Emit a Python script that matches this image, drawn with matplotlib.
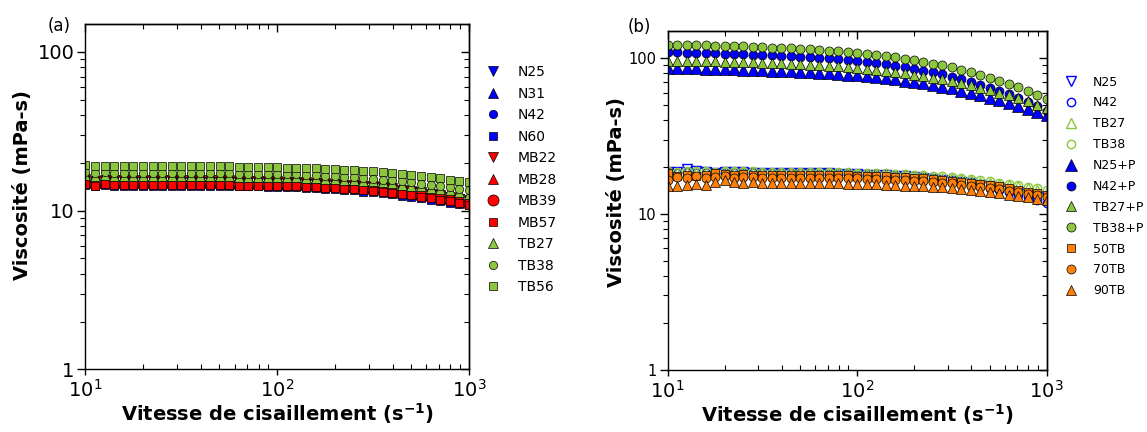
import matplotlib
matplotlib.use('Agg')
import matplotlib.pyplot as plt
from matplotlib.ticker import FixedLocator, FixedFormatter, NullFormatter, LogLocator

plt.rcParams['font.family'] = ['DejaVu Sans']
plt.rcParams['mathtext.fontset'] = 'dejavusans'

# ---------------- data ----------------
shear_rate = [10.0, 11.22, 12.59, 14.13, 15.85, 17.78, 19.95, 22.39, 25.12, 28.18,
              31.62, 35.48, 39.81, 44.67, 50.12, 56.23, 63.10, 70.79, 79.43, 89.13,
              100.0, 112.2, 125.9, 141.3, 158.5, 177.8, 199.5, 223.9, 251.2, 281.8,
              316.2, 354.8, 398.1, 446.7, 501.2, 562.3, 631.0, 707.9, 794.3, 891.3,
              1000.0]

# panel (a)
a_N25 = [15.5,15.2,15.4,15.3,15.3,15.2,15.3,15.3,15.3,15.3, 15.2,15.2,15.2,15.2,15.2,15.2,15.1,15.1,15.1,15.0,
         15.0,14.9,14.9,14.8,14.7,14.6,14.5,14.4,14.3,14.1, 14.0,13.8,13.6,13.3,13.1,12.9,12.6,12.4,12.1,11.8, 11.5]
a_N31 = [15.2,14.9,15.1,15.0,15.0,14.9,15.0,15.0,15.0,15.0, 14.9,14.9,14.9,14.9,14.9,14.9,14.8,14.8,14.8,14.7,
         14.7,14.6,14.6,14.5,14.4,14.3,14.2,14.1,14.0,13.8, 13.7,13.5,13.3,13.0,12.8,12.6,12.3,12.1,11.8,11.5, 11.2]
a_N42 = [15.0,14.7,14.9,14.8,14.8,14.7,14.8,14.8,14.8,14.8, 14.7,14.7,14.7,14.7,14.7,14.7,14.6,14.6,14.6,14.5,
         14.5,14.4,14.4,14.3,14.2,14.1,14.0,13.9,13.8,13.6, 13.5,13.3,13.1,12.8,12.6,12.4,12.1,11.9,11.6,11.3, 11.0]
a_N60 = [14.6,14.3,14.5,14.4,14.4,14.3,14.4,14.4,14.4,14.4, 14.3,14.3,14.3,14.3,14.3,14.3,14.2,14.2,14.2,14.1,
         14.1,14.0,14.0,13.9,13.8,13.7,13.6,13.5,13.4,13.2, 13.1,12.9,12.7,12.4,12.2,12.0,11.7,11.5,11.2,11.0, 10.8]
a_MB22 = [15.8,15.4,15.6,15.5,15.6,15.5,15.6,15.6,15.6,15.6, 15.5,15.5,15.5,15.5,15.5,15.5,15.4,15.4,15.4,15.3,
          15.3,15.2,15.2,15.1,15.0,14.9,14.8,14.6,14.5,14.4, 14.2,14.0,13.8,13.5,13.3,13.1,12.8,12.5,12.2,11.9, 11.6]
a_MB28 = [15.4,15.0,15.3,15.2,15.2,15.1,15.2,15.2,15.2,15.2, 15.1,15.1,15.1,15.1,15.1,15.1,15.0,15.0,15.0,14.9,
          14.9,14.8,14.8,14.7,14.6,14.5,14.4,14.3,14.1,14.0, 13.8,13.6,13.4,13.2,13.0,12.7,12.5,12.2,11.9,11.6, 11.3]
a_MB39 = [15.2,14.8,15.1,15.0,15.0,14.9,15.0,15.0,15.0,15.0, 14.9,14.9,14.9,14.9,14.9,14.9,14.8,14.8,14.8,14.7,
          14.7,14.6,14.6,14.5,14.4,14.3,14.2,14.1,13.9,13.8, 13.6,13.4,13.2,13.0,12.8,12.5,12.3,12.0,11.7,11.4, 11.1]
a_MB57 = [14.8,14.4,14.7,14.6,14.6,14.5,14.6,14.6,14.6,14.6, 14.5,14.5,14.5,14.5,14.5,14.5,14.4,14.4,14.4,14.4,
          14.3,14.3,14.2,14.1,14.0,13.9,13.8,13.7,13.6,13.4, 13.3,13.1,12.9,12.7,12.5,12.2,12.0,11.7,11.5,11.2, 10.9]
a_TB27 = [16.8,16.5,16.7,16.6,16.6,16.5,16.6,16.6,16.6,16.6, 16.5,16.5,16.5,16.5,16.5,16.5,16.4,16.4,16.4,16.3,
          16.3,16.2,16.2,16.1,16.0,15.9,15.8,15.7,15.6,15.4, 15.3,15.1,14.9,14.6,14.4,14.2,13.9,13.7,13.4,13.1, 12.8]
a_TB38 = [17.5,17.2,17.4,17.3,17.3,17.2,17.3,17.3,17.3,17.3, 17.2,17.2,17.2,17.2,17.2,17.2,17.1,17.1,17.1,17.0,
          17.0,16.9,16.9,16.8,16.7,16.6,16.5,16.4,16.2,16.1, 15.9,15.7,15.5,15.3,15.1,14.8,14.6,14.3,14.0,13.7, 13.4]
a_TB56 = [19.3,19.0,19.2,19.1,19.2,19.0,19.1,19.2,19.1,19.1, 19.0,19.0,19.0,19.0,19.0,19.0,18.9,18.9,18.9,18.8,
          18.8,18.7,18.7,18.6,18.5,18.4,18.3,18.1,18.0,17.9, 17.7,17.5,17.3,17.0,16.8,16.6,16.3,16.0,15.7,15.4, 15.1]

# panel (b)
b_N25 = [18.5,18.7,19.4,18.8,18.5,18.4,18.5,18.5,18.5,18.4, 18.4,18.4,18.4,18.3,18.3,18.3,18.2,18.2,18.1,18.1,
         18.0,17.9,17.8,17.7,17.5,17.4,17.2,17.0,16.8,16.6, 16.3,16.0,15.7,15.4,15.0,14.7,14.3,13.9,13.5,13.0, 12.6]
b_N42 = [18.6,18.3,18.5,18.4,18.4,18.3,18.4,18.4,18.4,18.4, 18.3,18.3,18.3,18.2,18.2,18.2,18.1,18.1,18.0,18.0,
         17.9,17.8,17.7,17.5,17.4,17.2,17.1,16.8,16.6,16.4, 16.1,15.8,15.4,15.0,14.6,14.2,13.8,13.3,12.8,12.3, 11.8]
b_TB27 = [18.6,18.4,18.6,18.5,18.5,18.4,18.5,18.6,18.5,18.5, 18.4,18.4,18.4,18.4,18.4,18.3,18.3,18.3,18.2,18.2,
          18.1,18.1,18.0,17.9,17.8,17.7,17.6,17.4,17.3,17.1, 16.9,16.7,16.4,16.1,15.9,15.6,15.3,15.0,14.6,14.3, 13.9]
b_TB38 = [18.9,18.7,18.9,18.8,18.8,18.7,18.8,18.9,18.8,18.8, 18.7,18.7,18.7,18.7,18.7,18.6,18.6,18.6,18.5,18.5,
          18.4,18.4,18.3,18.2,18.1,18.0,17.9,17.7,17.6,17.4, 17.2,17.0,16.7,16.4,16.2,15.9,15.6,15.3,14.9,14.6, 14.2]
b_N25P = [86.5,86.3,86.1,85.9,85.6,85.4,85.1,84.8,84.5,84.1, 83.7,83.3,82.8,82.3,81.8,81.2,80.6,79.9,79.2,78.5,
          77.8,76.8,75.6,74.4,73.1,71.7,70.3,68.8,67.2,65.6, 63.9,61.9,59.9,57.9,55.8,53.7,51.7,49.5,47.4,45.2, 43.0]
b_N42P = [109.0,108.8,108.4,108.1,107.7,107.4,107.0,106.5,106.0,105.5, 105.0,104.3,103.6,102.9,102.1,101.3,100.4,99.5,98.5,97.5,
          96.4,94.9,93.3,91.5,89.6,87.6,85.5,83.3,81.0,78.7, 76.2,73.4,70.5,67.6,64.6,61.6,58.5,55.5,52.3,49.2, 46.0]
b_TB27P = [96.5,96.3,96.1,95.8,95.5,95.2,95.0,94.6,94.2,93.8, 93.4,92.9,92.4,91.8,91.2,90.6,89.9,89.2,88.4,87.6,
           86.8,85.6,84.4,83.0,81.6,80.0,78.4,76.7,75.0,73.2, 71.3,69.1,66.9,64.6,62.3,60.0,57.7,55.3,52.9,50.4, 48.0]
b_TB38P = [122.0,121.7,121.4,121.1,120.7,120.3,119.9,119.4,118.9,118.3, 117.7,117.0,116.3,115.5,114.7,113.8,112.9,111.9,110.8,109.7,
           108.6,107.0,105.3,103.4,101.4,99.2,97.0,94.7,92.3,89.8, 87.2,84.1,81.1,77.9,74.8,71.6,68.3,65.1,61.7,58.4, 55.0]
b_50TB = [18.3,17.6,17.9,17.4,17.8,18.2,18.0,17.7,18.1,17.9, 17.9,17.9,17.9,17.9,17.9,17.8,17.8,17.8,17.7,17.7,
          17.6,17.6,17.5,17.4,17.3,17.2,17.0,16.9,16.7,16.5, 16.3,16.1,15.8,15.5,15.3,15.0,14.6,14.3,13.9,13.6, 13.2]
b_70TB = [16.6,17.3,16.9,17.5,17.0,17.2,17.4,17.1,17.2,17.3, 17.1,17.1,17.1,17.1,17.1,17.1,17.0,17.0,17.0,16.9,
          16.9,16.8,16.7,16.6,16.5,16.4,16.3,16.2,16.0,15.8, 15.7,15.4,15.2,14.9,14.7,14.4,14.1,13.8,13.5,13.2, 12.8]
b_90TB = [15.2,15.0,15.3,15.6,15.4,16.0,16.4,16.1,15.8,16.0, 15.9,15.9,15.8,15.8,15.8,15.8,15.7,15.7,15.7,15.6,
          15.6,15.6,15.5,15.4,15.3,15.2,15.1,15.0,14.9,14.8, 14.6,14.4,14.2,14.0,13.8,13.6,13.3,13.1,12.8,12.5, 12.2]

labels_a = ['N25', 'N31', 'N42', 'N60', 'MB22', 'MB28', 'MB39', 'MB57', 'TB27', 'TB38', 'TB56']
values_a = [a_N25, a_N31, a_N42, a_N60, a_MB22, a_MB28, a_MB39, a_MB57, a_TB27, a_TB38, a_TB56]
labels_b = ['N25', 'N42', 'TB27', 'TB38', 'N25+P', 'N42+P', 'TB27+P', 'TB38+P', '50TB', '70TB', '90TB']
values_b = [b_N25, b_N42, b_TB27, b_TB38, b_N25P, b_N42P, b_TB27P, b_TB38P, b_50TB, b_70TB, b_90TB]

x_ticks = [10, 100, 1000]
x_tick_labels = ['$10^{1}$', '$10^{2}$', '$10^{3}$']
y_ticks = [1, 10, 100]
y_tick_labels = ['1', '10', '100']

# ---------------- styles ----------------
BLUE = '#0000FF'
RED = '#FF0000'
GREEN = '#8CC63E'
ORANGE = '#FF7F0A'

# (marker, color, filled, size)
style_a = [('v', BLUE, True, 6.5), ('^', BLUE, True, 6.5), ('o', BLUE, True, 6), ('s', BLUE, True, 5.5),
           ('v', RED, True, 6.5), ('^', RED, True, 6.5), ('o', RED, True, 8), ('s', RED, True, 5.5),
           ('^', GREEN, True, 6.5), ('o', GREEN, True, 6), ('s', GREEN, True, 5.8)]
style_b = [('v', BLUE, False, 6.5), ('o', BLUE, False, 6), ('^', GREEN, False, 6.5), ('o', GREEN, False, 6),
           ('^', BLUE, True, 8.5), ('o', BLUE, True, 6.5), ('^', GREEN, True, 7), ('o', GREEN, True, 6.5),
           ('s', ORANGE, True, 6), ('o', ORANGE, True, 6.5), ('^', ORANGE, True, 7)]

fig = plt.figure(figsize=(11.47, 4.32), dpi=100)
ax_a = fig.add_axes([0.0745, 0.1451, 0.3343, 0.7993])
ax_b = fig.add_axes([0.5821, 0.1442, 0.3304, 0.7847])


def draw(ax, labels, values, styles):
    for lab, y, (m, c, filled, ms) in zip(labels, values, styles):
        if filled:
            ax.plot(shear_rate, y, linestyle='none', marker=m, markersize=ms,
                    markerfacecolor=c, markeredgecolor='black', markeredgewidth=0.5, label=lab)
        else:
            ax.plot(shear_rate, y, linestyle='none', marker=m, markersize=ms,
                    markerfacecolor='none', markeredgecolor=c, markeredgewidth=1.0, label=lab)


def style_axes(ax, ytick_size, xtick_size):
    ax.set_xscale('log')
    ax.set_yscale('log')
    ax.set_xlim(10, 1000)
    ax.set_ylim(1, 150)
    for sp in ax.spines.values():
        sp.set_linewidth(1.0)
    ax.xaxis.set_major_locator(FixedLocator(x_ticks))
    ax.xaxis.set_major_formatter(FixedFormatter(x_tick_labels))
    ax.yaxis.set_major_locator(FixedLocator(y_ticks))
    ax.yaxis.set_major_formatter(FixedFormatter(y_tick_labels))
    ax.xaxis.set_minor_locator(LogLocator(base=10, subs=range(2, 10)))
    ax.yaxis.set_minor_locator(LogLocator(base=10, subs=range(2, 10)))
    ax.xaxis.set_minor_formatter(NullFormatter())
    ax.yaxis.set_minor_formatter(NullFormatter())
    ax.tick_params(axis='y', which='major', direction='out', length=6, width=1, labelsize=ytick_size, pad=2)
    ax.tick_params(axis='y', which='minor', direction='out', length=3.5, width=0.8)
    ax.tick_params(axis='x', which='major', direction='out', length=4, width=1, labelsize=xtick_size, pad=3)
    ax.tick_params(axis='x', which='minor', direction='in', length=3.5, width=0.8)
    top = ax.secondary_xaxis('top')
    top.xaxis.set_major_locator(FixedLocator(x_ticks))
    top.xaxis.set_minor_locator(LogLocator(base=10, subs=range(2, 10)))
    top.xaxis.set_major_formatter(NullFormatter())
    top.xaxis.set_minor_formatter(NullFormatter())
    top.tick_params(which='major', direction='in', length=6, width=1)
    top.tick_params(which='minor', direction='in', length=3.5, width=0.8)
    right = ax.secondary_yaxis('right')
    right.yaxis.set_major_locator(FixedLocator(y_ticks))
    right.yaxis.set_minor_locator(LogLocator(base=10, subs=range(2, 10)))
    right.yaxis.set_major_formatter(NullFormatter())
    right.yaxis.set_minor_formatter(NullFormatter())
    right.tick_params(which='major', direction='in', length=6, width=1)
    right.tick_params(which='minor', direction='in', length=3.5, width=0.8)
    for sp in list(top.spines.values()) + list(right.spines.values()):
        sp.set_linewidth(1.0)


draw(ax_a, labels_a, values_a, style_a)
draw(ax_b, labels_b, values_b, style_b)
style_axes(ax_a, 14, 14)
style_axes(ax_b, 10.5, 14)

xlabel = 'Vitesse de cisaillement (s$^{\\mathbf{-1}}$)'
ylabel = 'Viscosité (mPa-s)'
for ax, xl_y, yl_x, yl_y in [(ax_a, -0.127, -0.163, 0.534), (ax_b, -0.131, -0.134, 0.524)]:
    ax.set_xlabel(xlabel, fontsize=14, fontweight='bold', va='center')
    ax.set_ylabel(ylabel, fontsize=14, fontweight='bold', va='center')
    ax.xaxis.set_label_coords(0.5, xl_y)
    ax.yaxis.set_label_coords(yl_x, yl_y)

fig.text(0.0515, 0.94, '(a)', fontsize=12, ha='center', va='center')
fig.text(0.557, 0.937, '(b)', fontsize=12, ha='center', va='center')

leg_a = ax_a.legend(loc='upper left', bbox_to_anchor=(0.4237, 0.849), bbox_transform=fig.transFigure,
                    frameon=False, fontsize=10, handlelength=1.0, handletextpad=1.3,
                    labelspacing=0.54, borderpad=0, borderaxespad=0, numpoints=1)
leg_b = ax_b.legend(loc='upper left', bbox_to_anchor=(0.9274, 0.825), bbox_transform=fig.transFigure,
                    frameon=False, fontsize=9, handlelength=1.1, handletextpad=1.25,
                    labelspacing=0.63, borderpad=0, borderaxespad=0, numpoints=1)

fig.savefig('out.png', dpi=100)
